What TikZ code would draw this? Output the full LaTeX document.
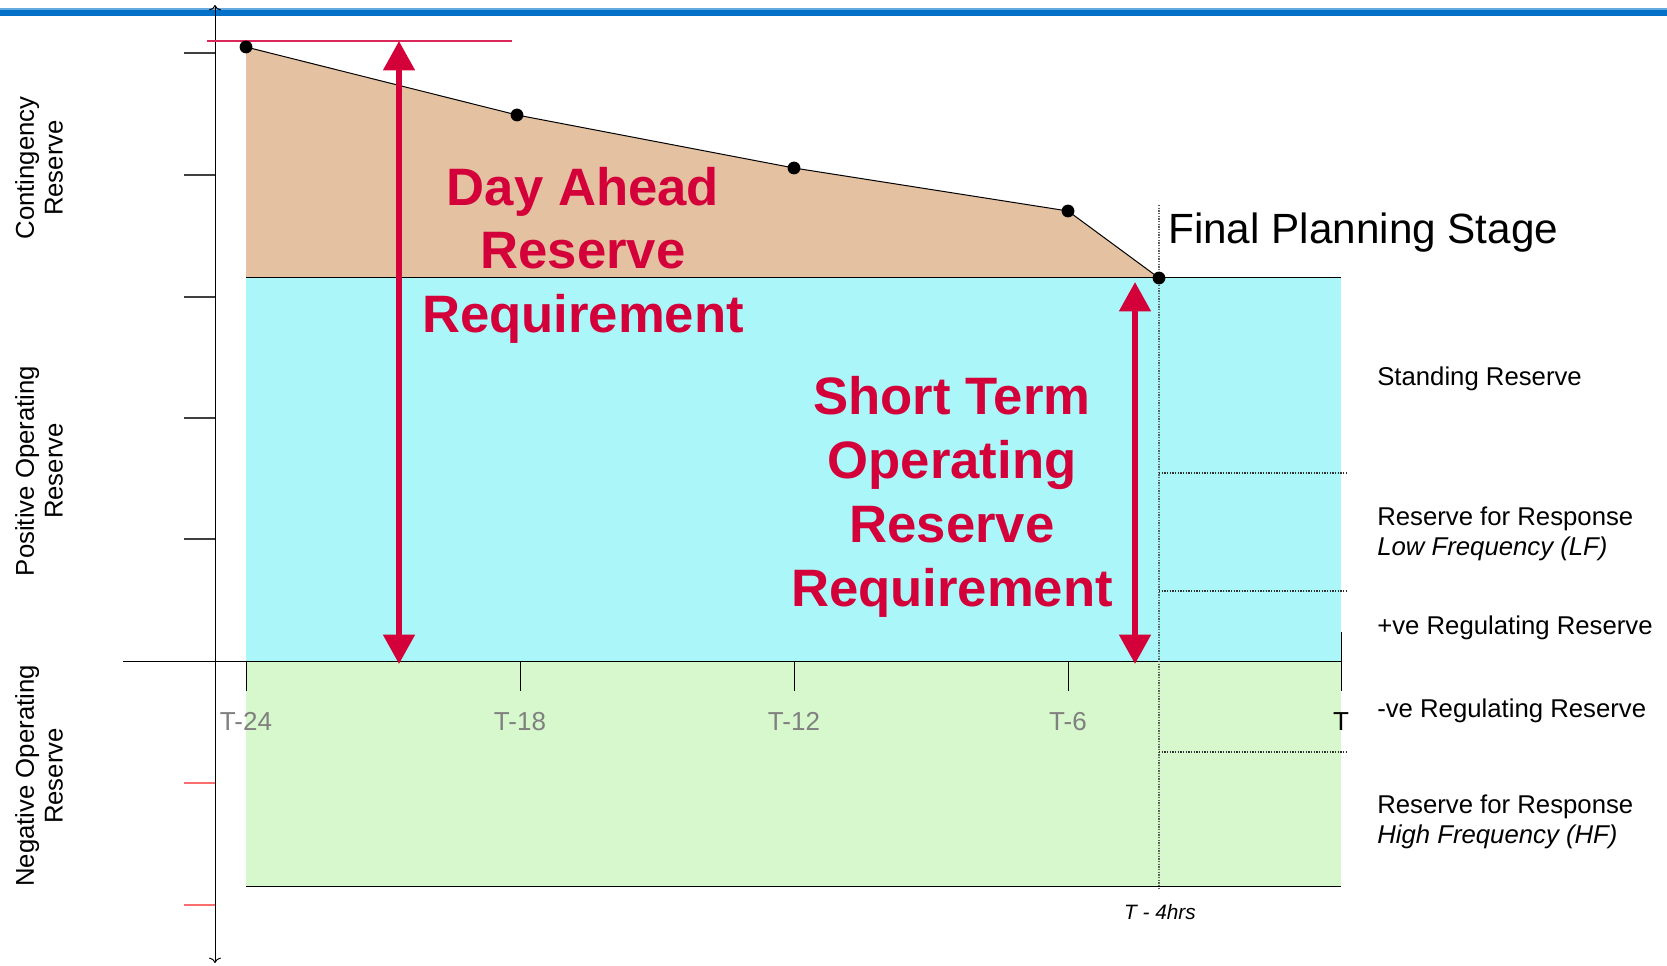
\documentclass[tikz,border=0pt]{standalone}
\usepackage{fontspec}
\setmainfont{Liberation Sans}
\usetikzlibrary{arrows.meta}
\definecolor{topblue}{RGB}{0,112,200}
\definecolor{brownfill}{RGB}{227,193,161}
\definecolor{cyanfill}{RGB}{170,246,248}
\definecolor{greenfill}{RGB}{214,248,204}
\definecolor{redarrow}{RGB}{212,0,58}
\definecolor{ticklabel}{RGB}{128,128,128}
\definecolor{redtick}{RGB}{250,110,110}
\definecolor{dotgray}{RGB}{90,100,100}
\begin{document}
\begin{tikzpicture}[x=0.75pt,y=-0.75pt,
  thinline/.style={draw=black,line width=0.75pt},
  tickline/.style={draw=black!75,line width=0.9pt},
  redtickline/.style={draw=redtick,line width=0.9pt},
  dotline/.style={draw=dotgray,line width=0.8pt,dash pattern=on 1pt off 1pt},
  bigarrow/.style={draw=redarrow,line width=4.3pt,
    {Triangle[width=23pt,length=22pt]}-{Triangle[width=23pt,length=22pt]}},
  axisline/.style={draw=black,line width=0.75pt,{To[length=4pt,width=9pt]}-{To[length=4pt,width=9pt]}},
  redline/.style={draw=redarrow!85,line width=0.8pt},
  bigred/.style={text=redarrow,font=\fontsize{39.5}{48}\selectfont\bfseries,align=center,anchor=base,inner sep=0pt},
  ticklbl/.style={text=ticklabel,font=\fontsize{19.5}{22}\selectfont,anchor=base,inner sep=0pt},
  rlbl/.style={font=\fontsize{19.3}{22.5}\selectfont,align=left,anchor=base west,inner sep=0pt},
  vlbl/.style={font=\fontsize{19.3}{21.5}\selectfont,align=center,rotate=90,inner sep=0pt},
  dotc/.style={fill=black}]
\useasboundingbox (0,0) rectangle (1667,966);
% top blue bar
\fill[topblue!60] (0,8.5) rectangle (1667,10);
\fill[topblue] (0,10) rectangle (1667,15.7);
% key points
\coordinate (p0) at (246,47);
\coordinate (p1) at (517,115);
\coordinate (p2) at (794,168);
\coordinate (p3) at (1068,211);
\coordinate (p4) at (1159,278);
% filled regions
\fill[brownfill] (p0) -- (p1) -- (p2) -- (p3) -- (p4) -- (246,278) -- cycle;
\fill[cyanfill] (246,278) rectangle (1341,661);
\fill[greenfill] (246,661) rectangle (1341,886);
% outlines
\draw[thinline] (p0) -- (p1) -- (p2) -- (p3) -- (p4);
\draw[thinline] (246,278) -- (1341,278);
\draw[thinline] (123,661) -- (1341,661);
\draw[thinline] (246,886) -- (1341,886);
% vertical axis
\coordinate (axtop) at (215,5);
\coordinate (axbot) at (215,963);
\draw[axisline] (axbot) -- (axtop);
\foreach \yy in {53,175,297,418,539} \draw[tickline] (184,\yy) -- (215,\yy);
\foreach \yy in {783,905} \draw[redtickline] (184,\yy) -- (215,\yy);
% red top line
\draw[redline] (207,41) -- (512,41);
% time ticks
\foreach \xx/\lab in {246/T-24,520/T-18,794/T-12,1068/T-6}{
  \draw[thinline] (\xx,661) -- (\xx,691);
  \node[ticklbl] (tick\xx) at (\xx,730) {\lab};
}
\draw[thinline] (1341,632) -- (1341,691);
\node[ticklbl,text=black] (tickT) at (1341,730) {T};
% dotted lines
\draw[dotline] (1159,205) -- (1159,889);
\foreach \yy in {473,591,752} \draw[dotline,draw=black!80] (1159,\yy) -- (1348,\yy);
% dots
\foreach \p in {p0,p1,p2,p3,p4} \fill[dotc] (\p) circle[radius=4.8pt];
% big arrows
\coordinate (a1t) at (399,41);
\coordinate (a1b) at (399,664);
\draw[bigarrow] (a1t) -- (a1b);
\coordinate (a2t) at (1135,282);
\coordinate (a2b) at (1135,664);
\draw[bigarrow] (a2t) -- (a2b);
% red texts (base anchor = baseline of last line)
\node[bigred] (dayahead) at (583,333) {Day Ahead\\Reserve\\Requirement};
\node[bigred] (shortterm) at (952,606) {Short Term\\Operating\\Reserve\\Requirement};
% final planning stage
\node[font=\fontsize{31.7}{38}\selectfont,anchor=base west,inner sep=0pt] (fps) at (1168,244) {Final Planning Stage};
% T - 4hrs
\node[font=\fontsize{15.6}{18}\selectfont\itshape,anchor=base,inner sep=0pt] (t4) at (1160,919) {T - 4hrs};
% right labels
\node[rlbl] (standing) at (1377,385) {Standing Reserve};
\node[rlbl] (lf) at (1377,555) {Reserve for Response\\\itshape Low Frequency (LF)};
\node[rlbl] (posreg) at (1377,634) {+ve Regulating Reserve};
\node[rlbl] (negreg) at (1377,717) {-ve Regulating Reserve};
\node[rlbl] (hf) at (1377,843) {Reserve for Response\\\itshape High Frequency (HF)};
% left rotated labels
\node[vlbl] (cont) at (39,168) {Contingency\\Reserve};
\node[vlbl] (posop) at (39,471) {Positive Operating\\Reserve};
\node[vlbl] (negop) at (39,776) {Negative Operating\\Reserve};
\end{tikzpicture}
\end{document}
